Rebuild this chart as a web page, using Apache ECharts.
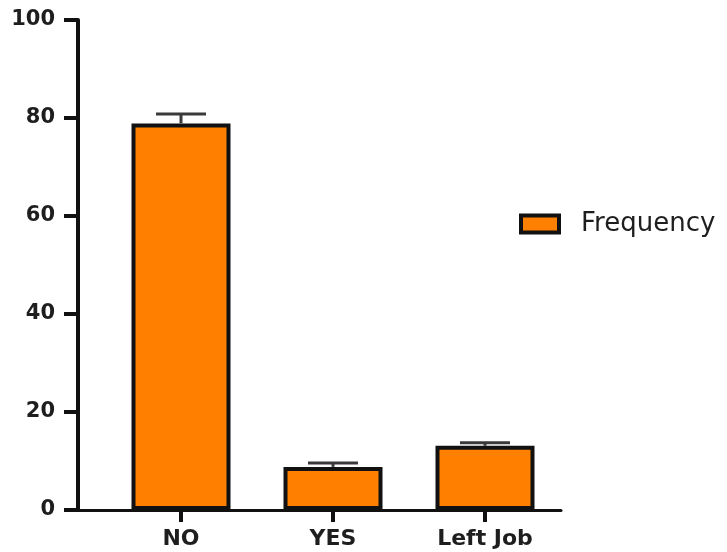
<!DOCTYPE html>
<html>
<head>
<meta charset="utf-8">
<title>Frequency</title>
<script src="https://cdn.jsdelivr.net/npm/echarts@6/dist/echarts.min.js"></script>
<style>
  html, body { margin: 0; padding: 0; background: #ffffff; }
  #chart { width: 727px; height: 552px; }
</style>
</head>
<body>
<div id="chart"></div>
<script>
// Responses and their frequencies (with upper error values)
const categories = ['NO', 'YES', 'Left Job'];
const frequency = [78.9, 8.8, 13.1];
const upperError = [80.8, 9.6, 13.7];
const yTicks = [0, 20, 40, 60, 80, 100];

const ORANGE = '#FF8000';
const INK = '#111111';
const ERR = '#3a3a3a';

const chart = echarts.init(document.getElementById('chart'), null, { renderer: 'canvas' });

const errorData = categories.map((c, i) => [i, frequency[i], upperError[i]]);

const option = {
  backgroundColor: '#ffffff',
  animation: false,
  legend: {
    data: ['Frequency'],
    left: 519,
    top: 211,
    padding: 0,
    icon: 'rect',
    itemWidth: 38,
    itemHeight: 17,
    itemGap: 10,
    textStyle: { fontFamily: 'DejaVu Sans', fontSize: 26, color: '#1e1e1e', padding: [0, 0, 4, 17] },
    itemStyle: { color: ORANGE, borderColor: INK, borderWidth: 4 }
  },
  grid: [
    // frame grid: carries the value axis and the full-length baseline
    { left: 78, right: 166, top: 20, bottom: 42, containLabel: false },
    // plotting grid: categories start a little right of the value axis
    { left: 105, right: 166, top: 20, bottom: 42, containLabel: false }
  ],
  xAxis: [
    {
      gridIndex: 0, type: 'value', min: 0, max: 1,
      axisLine: { show: true, lineStyle: { color: INK, width: 3 } },
      axisTick: { show: false }, axisLabel: { show: false }, splitLine: { show: false }
    },
    {
      gridIndex: 1, type: 'category', data: categories,
      axisLine: { show: false },
      axisTick: { show: true, alignWithLabel: true, length: 12, lineStyle: { color: INK, width: 4 } },
      axisLabel: {
        margin: 18, fontFamily: 'DejaVu Sans', fontWeight: 'bold', fontSize: 22, color: '#1e1e1e'
      },
      splitLine: { show: false }
    }
  ],
  yAxis: [
    {
      gridIndex: 0, type: 'value', min: yTicks[0], max: yTicks[yTicks.length - 1], interval: 20,
      axisLine: { show: true, lineStyle: { color: INK, width: 4 } },
      axisTick: { show: true, length: 14, lineStyle: { color: INK, width: 4 } },
      axisLabel: {
        margin: 23, fontFamily: 'DejaVu Sans', fontWeight: 'bold', fontSize: 21, color: '#1e1e1e'
      },
      splitLine: { show: false }
    },
    {
      gridIndex: 1, type: 'value', min: yTicks[0], max: yTicks[yTicks.length - 1], interval: 20,
      show: false, splitLine: { show: false }
    }
  ],
  series: [
    {
      name: 'Frequency',
      type: 'bar',
      xAxisIndex: 1, yAxisIndex: 1,
      data: frequency,
      barWidth: 99,
      itemStyle: { color: ORANGE, borderColor: INK, borderWidth: 4 },
      z: 2
    },
    {
      name: 'error',
      type: 'custom',
      xAxisIndex: 1, yAxisIndex: 1,
      data: errorData,
      z: 3,
      renderItem: function (params, api) {
        const base = api.coord([api.value(0), api.value(1)]);
        const top = api.coord([api.value(0), api.value(2)]);
        const half = 25;
        return {
          type: 'group',
          children: [
            {
              type: 'line',
              shape: { x1: base[0], y1: base[1], x2: top[0], y2: top[1] },
              style: { stroke: ERR, lineWidth: 3 }
            },
            {
              type: 'line',
              shape: { x1: top[0] - half, y1: top[1], x2: top[0] + half, y2: top[1] },
              style: { stroke: ERR, lineWidth: 3 }
            }
          ]
        };
      }
    }
  ]
};

chart.setOption(option);
</script>
</body>
</html>
